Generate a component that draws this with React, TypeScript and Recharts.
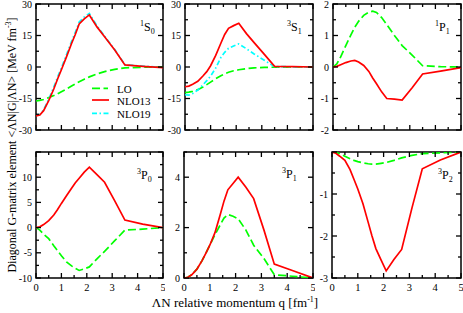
import React from 'react';
import { LineChart, Line, XAxis, YAxis, ReferenceArea } from 'recharts';

// relative momentum q [fm^-1]
const q = [0, 0.15, 0.3, 0.5, 0.7, 0.85, 1.0, 1.2, 1.4, 1.55, 1.7, 1.9, 2.1, 2.4, 2.7, 3.1, 3.5, 4.2, 5];

// 1S0
const lo1S0 = [-16.2, -15.9, -15.5, -14.6, -13.6, -12.8, -11.8, -10.5, -9.1, -8.0, -7.0, -5.8, -4.7, -3.3, -2.2, -1.1, -0.4, -0.1, 0];
const nlo13_1S0 = [-23.3, -22.9, -20.8, -16.0, -10.5, -5.7, -1.3, 4.8, 11.2, 15.6, 20.5, 22.9, 24.8, 19.1, 14.4, 8.1, 1.0, 0.3, -0.3];
const nlo19_1S0 = [-23.0, -22.6, -20.4, -15.4, -9.6, -4.8, -0.4, 5.8, 12.2, 16.6, 21.4, 23.8, 25.5, 19.6, 14.7, 8.3, 1.1, 0.4, -0.2];

// 3S1
const lo3S1 = [-12.2, -12.0, -11.6, -10.8, -9.5, -8.4, -7.2, -5.6, -4.2, -3.3, -2.5, -1.8, -1.3, -0.8, -0.4, -0.2, -0.1, 0, 0];
const nlo13_3S1 = [-9.4, -9.1, -8.2, -6.8, -4.3, -2.2, 0.6, 5.5, 11.3, 15.5, 18.4, 19.7, 20.8, 15.9, 11.6, 6.0, 0.3, 0.2, 0];
const nlo19_3S1 = [-13.2, -13.4, -12.6, -11.0, -8.5, -6.5, -4.3, -0.5, 4.5, 7.0, 8.9, 10.0, 11.0, 8.7, 6.2, 3.2, 0.2, 0.1, 0];

// 1P1
const lo1P1 = [0, 0.1, 0.32, 0.68, 1.02, 1.26, 1.45, 1.64, 1.74, 1.77, 1.73, 1.57, 1.35, 1.0, 0.68, 0.37, 0.04, 0.01, 0];
const nlo13_1P1 = [0, 0.02, 0.07, 0.14, 0.19, 0.21, 0.16, 0.05, -0.14, -0.35, -0.53, -0.79, -1.0, -1.02, -1.05, -0.65, -0.22, -0.13, -0.02];

// 3P0
const lo3P0 = [0, -0.5, -1.3, -2.2, -3.6, -4.6, -5.6, -6.8, -7.6, -8.1, -8.5, -8.2, -7.8, -6.2, -4.7, -2.6, -0.5, -0.3, 0];
const nlo13_3P0 = [0, 0.15, 0.6, 1.4, 2.5, 3.6, 4.8, 6.3, 7.8, 8.9, 9.8, 11.0, 12.0, 10.5, 9.0, 5.3, 1.5, 0.7, 0];

// 3P1
const lo3P1 = [0, 0.03, 0.13, 0.35, 0.69, 0.99, 1.3, 1.72, 2.1, 2.38, 2.52, 2.45, 2.35, 1.9, 1.3, 0.77, 0.13, 0.07, 0];
const nlo13_3P1 = [0, 0.03, 0.13, 0.35, 0.69, 0.99, 1.3, 1.8, 2.5, 3.05, 3.5, 3.75, 4.0, 3.6, 3.15, 1.9, 0.55, 0.3, 0];

// 3P2
const lo3P2 = [0, -0.01, -0.04, -0.1, -0.16, -0.2, -0.23, -0.26, -0.28, -0.29, -0.29, -0.27, -0.25, -0.2, -0.14, -0.08, -0.04, -0.02, 0];
const nlo13_3P2 = [0, -0.03, -0.1, -0.2, -0.42, -0.65, -0.88, -1.23, -1.67, -2.0, -2.3, -2.57, -2.83, -2.56, -2.32, -1.33, -0.4, -0.19, 0];

// ticks
const xTicks = [0, 0.5, 1, 1.5, 2, 2.5, 3, 3.5, 4, 4.5, 5];
const xLabels = [0, 1, 2, 3, 4, 5];
const sTicks = [-30, -22.5, -15, -7.5, 0, 7.5, 15, 22.5, 30];
const sLabels = [-30, -15, 0, 15, 30];
const p1Ticks = [-2, -1.5, -1, -0.5, 0, 0.5, 1, 1.5, 2];
const p1Labels = [-2, -1, 0, 1, 2];
const p0Ticks = [-10, -7.5, -5, -2.5, 0, 2.5, 5, 7.5, 10, 12.5, 15];
const p0Labels = [-10, -5, 0, 5, 10];
const p0Major = [-10, -5, 0, 5, 10, 15];
const p31Ticks = [0, 1, 2, 3, 4, 5];
const p31Labels = [0, 2, 4];
const p32Ticks = [-3, -2.5, -2, -1.5, -1, -0.5, 0];
const p32Labels = [-3, -2, -1];
const p32Major = [-3, -2, -1, 0];

const FONT = '"Liberation Serif", "Times New Roman", serif';
const GREEN = '#00ff00';
const RED = '#ff0000';
const CYAN = '#00ffff';
const LO_DASH = '8 3.5';
const NLO19_DASH = '5 2.5 1.5 2.5';

interface Series {
  key: string;
  values: number[];
  color: string;
  dash?: string;
}

interface PanelProps {
  left: number;
  top: number;
  w: number;
  h: number;
  yDomain: [number, number];
  yTicks: number[];
  yMajor: number[];
  yLabels: number[];
  showX: boolean;
  series: Series[];
}

const Panel = ({ left, top, w, h, yDomain, yTicks, yMajor, yLabels, showX, series }: PanelProps) => {
  const data = q.map((v, i) => {
    const row: Record<string, number> = { q: v };
    series.forEach((s) => (row[s.key] = s.values[i]));
    return row;
  });

  const XTick = (p: any) => {
    const v = p.payload.value;
    const len = Number.isInteger(v) ? 5 : 3;
    return (
      <g>
        <line x1={p.x} x2={p.x} y1={p.y} y2={p.y - len} stroke="#000" strokeWidth={1.3} />
        <line x1={p.x} x2={p.x} y1={p.y - h} y2={p.y - h + len} stroke="#000" strokeWidth={1.3} />
        {showX && xLabels.includes(v) && (
          <text x={p.x} y={p.y + 12.5} textAnchor="middle" fontSize={10.5} fontFamily={FONT} fill="#000">
            {v}
          </text>
        )}
      </g>
    );
  };

  const YTick = (p: any) => {
    const v = p.payload.value;
    const len = yMajor.includes(v) ? 5 : 3;
    return (
      <g>
        <line x1={p.x} x2={p.x + len} y1={p.y} y2={p.y} stroke="#000" strokeWidth={1.3} />
        <line x1={p.x + w} x2={p.x + w - len} y1={p.y} y2={p.y} stroke="#000" strokeWidth={1.3} />
        {yLabels.includes(v) && (
          <text x={p.x - 4} y={p.y + 3.6} textAnchor="end" fontSize={10} fontFamily={FONT} fill="#000">
            {v}
          </text>
        )}
      </g>
    );
  };

  return (
    <div style={{ position: 'absolute', left: left - 30, top: top - 4 }}>
      <LineChart width={w + 32} height={h + 20} data={data} margin={{ top: 4, right: 2, left: 0, bottom: 0 }}>
        <XAxis
          dataKey="q"
          type="number"
          domain={[0, 5]}
          allowDataOverflow
          ticks={xTicks}
          interval={0}
          tickSize={0}
          tickMargin={0}
          axisLine={false}
          tickLine={false}
          tick={XTick}
          height={16}
        />
        <YAxis
          type="number"
          domain={yDomain}
          allowDataOverflow
          ticks={yTicks}
          interval={0}
          tickSize={0}
          tickMargin={0}
          axisLine={false}
          tickLine={false}
          tick={YTick}
          width={30}
        />
        {series.map((s) => (
          <Line
            key={s.key}
            type="linear"
            dataKey={s.key}
            stroke={s.color}
            strokeWidth={1.7}
            strokeDasharray={s.dash}
            dot={false}
            isAnimationActive={false}
          />
        ))}
        <ReferenceArea
          x1={0}
          x2={5}
          y1={yDomain[0]}
          y2={yDomain[1]}
          fill="none"
          fillOpacity={0}
          stroke="#000"
          strokeWidth={1.5}
          ifOverflow="visible"
        />
      </LineChart>
    </div>
  );
};

// wave label like ¹S₀
const Wave = ({ x, y, sup, letter, sub }: { x: number; y: number; sup: string; letter: string; sub: string }) => (
  <text x={x} y={y} fontFamily={FONT} fontSize={12} fill="#000">
    <tspan fontSize={8} dy={-5}>{sup}</tspan>
    <tspan dy={5}>{letter}</tspan>
    <tspan fontSize={8} dy={3}>{sub}</tspan>
  </text>
);

const App = () => {
  return (
    <div style={{ position: 'absolute', left: 0, top: 0, width: 463, height: 313, background: '#fff' }}>
      <Panel left={36} top={4} w={127} h={126} yDomain={[-30, 30]} yTicks={sTicks} yMajor={sLabels} yLabels={sLabels} showX={false}
        series={[
          { key: 'lo', values: lo1S0, color: GREEN, dash: LO_DASH },
          { key: 'nlo19', values: nlo19_1S0, color: CYAN, dash: NLO19_DASH },
          { key: 'nlo13', values: nlo13_1S0, color: RED },
        ]} />
      <Panel left={185} top={4} w={128} h={126} yDomain={[-30, 30]} yTicks={sTicks} yMajor={sLabels} yLabels={sLabels} showX={false}
        series={[
          { key: 'lo', values: lo3S1, color: GREEN, dash: LO_DASH },
          { key: 'nlo19', values: nlo19_3S1, color: CYAN, dash: NLO19_DASH },
          { key: 'nlo13', values: nlo13_3S1, color: RED },
        ]} />
      <Panel left={333} top={4} w={128} h={126} yDomain={[-2, 2]} yTicks={p1Ticks} yMajor={p1Labels} yLabels={p1Labels} showX={false}
        series={[
          { key: 'lo', values: lo1P1, color: GREEN, dash: LO_DASH },
          { key: 'nlo13', values: nlo13_1P1, color: RED },
        ]} />
      <Panel left={36} top={152} w={127} h={126} yDomain={[-10, 15]} yTicks={p0Ticks} yMajor={p0Major} yLabels={p0Labels} showX
        series={[
          { key: 'lo', values: lo3P0, color: GREEN, dash: LO_DASH },
          { key: 'nlo13', values: nlo13_3P0, color: RED },
        ]} />
      <Panel left={184} top={152} w={129} h={126} yDomain={[0, 5]} yTicks={p31Ticks} yMajor={p31Labels} yLabels={p31Labels} showX
        series={[
          { key: 'lo', values: lo3P1, color: GREEN, dash: LO_DASH },
          { key: 'nlo13', values: nlo13_3P1, color: RED },
        ]} />
      <Panel left={332} top={152} w={129} h={126} yDomain={[-3, 0]} yTicks={p32Ticks} yMajor={p32Major} yLabels={p32Labels} showX
        series={[
          { key: 'lo', values: lo3P2, color: GREEN, dash: LO_DASH },
          { key: 'nlo13', values: nlo13_3P2, color: RED },
        ]} />

      <svg width={463} height={313} style={{ position: 'absolute', left: 0, top: 0, pointerEvents: 'none' }}>
        <Wave x={140} y={31} sup="1" letter="S" sub="0" />
        <Wave x={287} y={31} sup="3" letter="S" sub="1" />
        <Wave x={435} y={31} sup="1" letter="P" sub="1" />
        <Wave x={137} y={179} sup="3" letter="P" sub="0" />
        <Wave x={282} y={178} sup="3" letter="P" sub="1" />
        <Wave x={438} y={179} sup="3" letter="P" sub="2" />

        {/* legend */}
        <line x1={92} x2={108} y1={88.3} y2={88.3} stroke={GREEN} strokeWidth={1.7} strokeDasharray={LO_DASH} />
        <text x={117} y={93} fontFamily={FONT} fontSize={11}>LO</text>
        <line x1={92} x2={109} y1={100} y2={100} stroke={RED} strokeWidth={1.7} />
        <text x={117} y={104.5} fontFamily={FONT} fontSize={11}>NLO13</text>
        <line x1={92} x2={110} y1={113.3} y2={113.3} stroke={CYAN} strokeWidth={1.7} strokeDasharray={NLO19_DASH} />
        <text x={117} y={117.5} fontFamily={FONT} fontSize={11}>NLO19</text>

        {/* axis titles */}
        <text x={235} y={307} textAnchor="middle" fontFamily={FONT} fontSize={13}>
          ΛN relative momentum q [fm<tspan fontSize={8} dy={-5}>-1</tspan><tspan dy={5}>]</tspan>
        </text>
        <text transform="translate(16,145) rotate(-90)" textAnchor="middle" fontFamily={FONT} fontSize={12}>
          Diagonal G-matrix element &lt;ΛN|G|ΛN&gt; [MeV fm<tspan fontSize={8} dy={-5}>-3</tspan><tspan dy={5}>]</tspan>
        </text>
      </svg>
    </div>
  );
};

export default App;
